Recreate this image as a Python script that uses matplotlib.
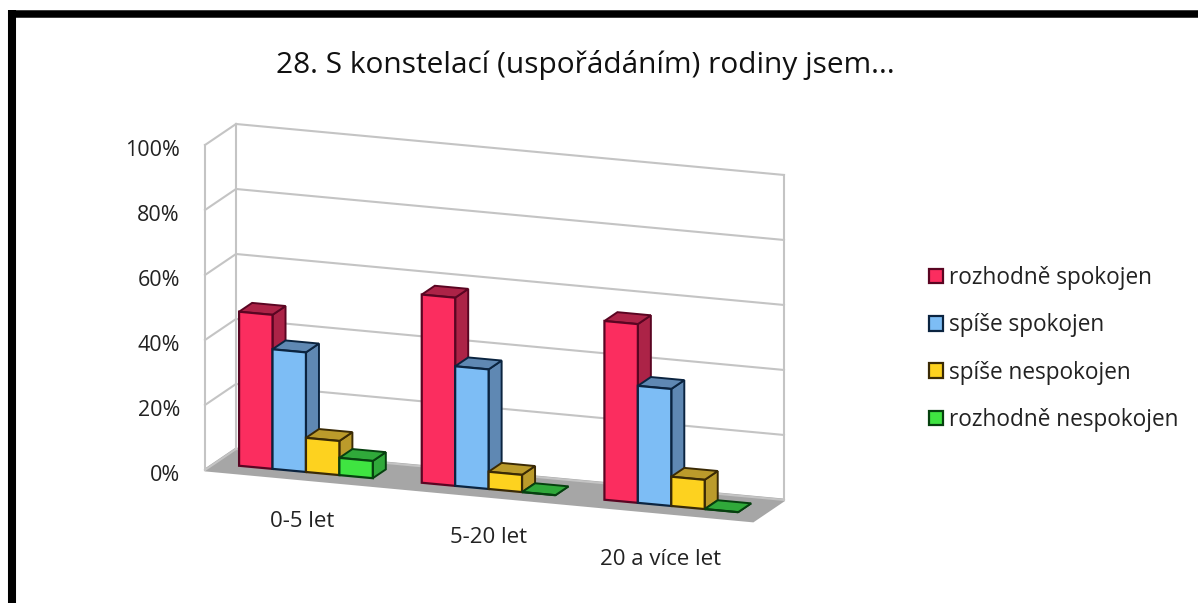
import matplotlib
matplotlib.use('Agg')
import matplotlib.pyplot as plt
from matplotlib.patches import Polygon, Patch
from matplotlib.transforms import Affine2D

title = '28. S konstelací (uspořádáním) rodiny jsem...'
categories = ['0-5 let', '5-20 let', '20 a více let']
series = ['rozhodně spokojen', 'spíše spokojen', 'spíše nespokojen', 'rozhodně nespokojen']
rozhodne_spokojen = [47.4, 57.9, 55.0]
spise_spokojen = [36.8, 36.8, 36.0]
spise_nespokojen = [10.5, 5.3, 9.0]
rozhodne_nespokojen = [5.3, 0, 0]
yticks = [0, 20, 40, 60, 80, 100]

values = [rozhodne_spokojen, spise_spokojen, spise_nespokojen, rozhodne_nespokojen]
front = ['#fb2d5f', '#7dbdf5', '#fdd21f', '#3fe441']
shade = ['#ac2347', '#5f88b3', '#bb9b2b', '#30a93a']
edge = ['#5a0522', '#0b2440', '#3a2a05', '#06400f']

W, H = 1198, 603
plt.rcParams['font.family'] = ['Open Sans', 'DejaVu Sans']
fig = plt.figure(figsize=(W / 100, H / 100), dpi=100)
ax = fig.add_axes([205 / W, (H - 470) / H, 548 / W, 325 / H])
ax.set_xlim(0, 3)
ax.set_ylim(0, 100)
ax.patch.set_visible(False)
for s in ax.spines.values():
    s.set_visible(False)
ax.set_xticks([])
ax.set_yticks(yticks)
ax.set_yticklabels([str(t) + '%' for t in yticks], fontsize=15.5, color='#222222')
ax.tick_params(axis='y', length=0, pad=18)
# the labels sit a little under their gridlines
for lab in ax.get_yticklabels():
    lab.set_transform(lab.get_transform() + Affine2D().translate(0, -3))

# fake 3d: shear the axes in pixels, then shift by depth
slope = 0.093
shear = Affine2D.from_values(1, -slope, 0, 1, 0, slope * 205)


def tr(d):
    return ax.transData + shear + Affine2D().translate(31 * d, 21 * d)


def quad(pts, d0, d1, z, **kw):
    # pts are (x, value) pairs, first two at depth d0 and last two at depth d1
    t0, t1 = tr(d0), tr(d1)
    xy = [t0.transform(p) for p in pts[:2]] + [t1.transform(p) for p in pts[2:]]
    ax.add_patch(Polygon(xy, closed=True, transform=None, zorder=z, clip_on=False, **kw))


# floor and walls
quad([(0, 0), (3, 0), (3, 0), (0, 0)], 0, 1, 1, facecolor='#a6a6a6', edgecolor='#a6a6a6', lw=2)
grid = '#c4c4c4'
for t in yticks:
    ax.plot([0, 3], [t, t], color=grid, lw=1.5, transform=tr(1), zorder=2, clip_on=False)
    a = tr(0).transform((0, t))
    b = tr(1).transform((0, t))
    ax.plot([a[0], b[0]], [a[1], b[1]], color=grid, lw=1.5, transform=None, zorder=2, clip_on=False)
ax.plot([0, 0], [0, 100], color=grid, lw=1.5, transform=tr(0), zorder=2, clip_on=False)
ax.plot([0, 0], [0, 100], color=grid, lw=1.5, transform=tr(1), zorder=2, clip_on=False)
ax.plot([3, 3], [0, 100], color=grid, lw=1.5, transform=tr(1), zorder=2, clip_on=False)

# bars
w = 0.183
d0, d1 = 0.31, 0.73
z = 3
for i in range(len(categories)):
    for j in range(len(series)):
        x = i + 0.5 - 2 * w + j * w
        v = values[j][i]
        quad([(x + w, 0), (x + w, v), (x + w, v), (x + w, 0)], d0, d1, z,
             facecolor=shade[j], edgecolor=edge[j], lw=1.4)
        quad([(x, v), (x + w, v), (x + w, v), (x, v)], d0, d1, z,
             facecolor=shade[j], edgecolor=edge[j], lw=1.4)
        ax.bar(x, v, w, align='edge', color=front[j], edgecolor=edge[j], lw=1.6,
               transform=tr(d0), zorder=z + 0.5, clip_on=False)
        z += 1

# category labels
offs = [(6, -43), (10, -42), (-1, -47)]
for i, c in enumerate(categories):
    ax.text(i + 0.5, 0, c, transform=tr(0) + Affine2D().translate(*offs[i]),
            ha='center', va='center', fontsize=16, color='#222222')

fig.text(585 / W, 1 - 65 / H, title, ha='center', va='center', fontsize=21.5, color='#111111')

handles = [Patch(facecolor=front[j], edgecolor=edge[j], lw=1.6) for j in range(len(series))]
fig.legend(handles, series, loc='center left', bbox_to_anchor=(929 / W, 1 - 349 / H), frameon=False,
           fontsize=16.3, handlelength=0.6, handleheight=0.6, handletextpad=0.28, labelspacing=1.03,
           labelcolor='#222222', borderpad=0, borderaxespad=0)

# black frame, only top and left are in the picture
fig.add_artist(plt.Line2D([12 / W, 12 / W], [0, 1 - 10 / H], color='black', lw=5.8, solid_capstyle='butt'))
fig.add_artist(plt.Line2D([8 / W, 1], [1 - 13.5 / H, 1 - 13.5 / H], color='black', lw=5.4, solid_capstyle='butt'))

fig.savefig('out.png', dpi=100)
